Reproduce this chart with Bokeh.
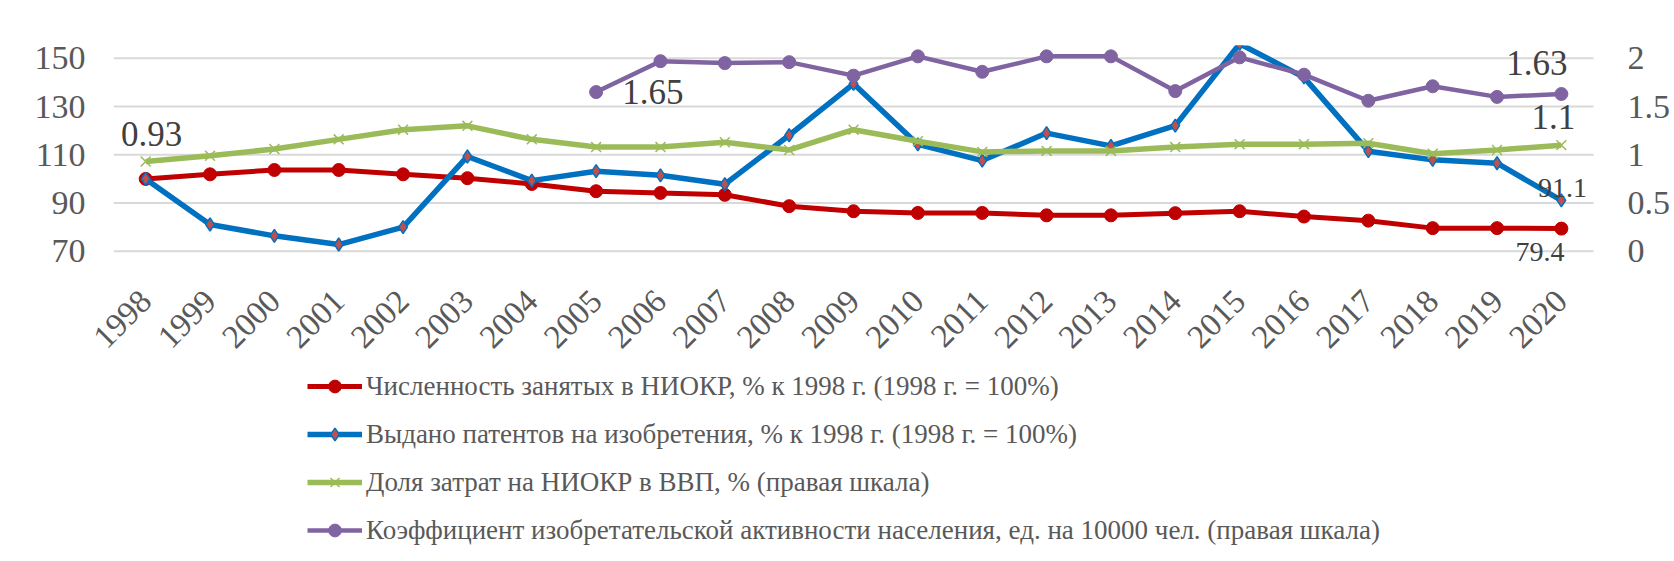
import math
from bokeh.plotting import figure
from bokeh.layouts import column
from bokeh.models import (Range1d, FixedTicker, Legend, LegendItem, Label, LabelSet,
                          ColumnDataSource)
from bokeh.embed import file_html
from bokeh.resources import INLINE

# ---------------- data ----------------
years = list(range(1998, 2021))
staff = [100, 101.9, 103.7, 103.7, 101.9, 100.3, 97.9, 94.9, 94.2, 93.4, 88.7, 86.6,
         85.9, 85.9, 84.9, 84.9, 85.8, 86.6, 84.4, 82.7, 79.6, 79.6, 79.4]
patents = [100, 81.1, 76.4, 72.8, 80.0, 109.3, 99.3, 103.2, 101.5, 97.8, 118.1, 139.4,
           114.3, 107.6, 119.0, 113.7, 122.1, 156.0, 142.1, 111.5, 107.9, 106.5, 91.1]
rd_share = [0.93, 0.99, 1.06, 1.16, 1.26, 1.30, 1.16, 1.08, 1.08, 1.13, 1.05, 1.26,
            1.14, 1.03, 1.04, 1.04, 1.08, 1.11, 1.11, 1.12, 1.01, 1.05, 1.1]
invent_years = list(range(2005, 2021))
invent = [1.65, 1.97, 1.95, 1.96, 1.82, 2.02, 1.86, 2.02, 2.02, 1.66, 2.01, 1.83,
          1.56, 1.71, 1.60, 1.63]
left_ticks = [70, 90, 110, 130, 150]
right_ticks = [0, 0.5, 1, 1.5, 2]
series_names = [
    "Численность занятых в НИОКР, % к 1998 г. (1998 г. = 100%)",
    "Выдано патентов на изобретения, % к 1998 г. (1998 г. = 100%)",
    "Доля затрат на НИОКР в ВВП, % (правая шкала)",
    "Коэффициент изобретательской активности населения, ед. на 10000 чел. (правая шкала)",
]

FONT = "Liberation Serif"
TICK_COLOR = "#595959"
LABEL_COLOR = "#404040"
RED, BLUE, GREEN, PURPLE = "#C00000", "#0070C0", "#9BBB59", "#8064A2"
DIAMOND_FILL = "#C0504D"

W = 1674
H_TOP, H_LEG = 360, 201
BL, TOP, BOTTOM = 113, 45, 95
STEP_PX = 64.35                 # width of one category
X0 = years[0] - 0.5             # left edge of the plot area
X1 = years[-1] + 0.5            # right edge of the plot area (gridlines end here)
x_end = X0 + (W - BL) / STEP_PX # frame continues to the canvas edge for the right labels
PX_PER_UNIT = 2.4125
Y_MAX = 155.3
y_left = (Y_MAX - (H_TOP - TOP - BOTTOM) / PX_PER_UNIT, Y_MAX)
y_right = ((y_left[0] - 70) / 40.0, (y_left[1] - 70) / 40.0)

p = figure(width=W, height=H_TOP, output_backend="svg", toolbar_location=None,
           x_range=Range1d(X0, x_end), y_range=Range1d(*y_left),
           min_border_left=BL, min_border_right=0, min_border_top=TOP,
           min_border_bottom=BOTTOM)
p.extra_y_ranges = {"right": Range1d(*y_right)}
p.background_fill_color = "white"
p.border_fill_color = "white"
p.outline_line_color = None
p.xgrid.visible = False
p.ygrid.visible = False

# axes (left value axis + bottom category axis)
p.xaxis.ticker = FixedTicker(ticks=years)
p.xaxis.major_label_orientation = math.pi / 4
p.yaxis.ticker = FixedTicker(ticks=left_ticks)
for ax in [p.xaxis[0], p.yaxis[0]]:
    ax.axis_line_color = None
    ax.major_tick_line_color = None
    ax.minor_tick_line_color = None
    ax.major_tick_out = 0
    ax.major_tick_in = 0
    ax.major_label_text_font = FONT
    ax.major_label_text_font_size = "34px"
    ax.major_label_text_color = TICK_COLOR
p.xaxis.major_label_text_font_size = "33px"
p.xaxis.major_label_standoff = 30
p.yaxis[0].major_label_standoff = 28

# horizontal gridlines across the plot area only
n = len(left_ticks)
p.segment(x0=[X0] * n, x1=[X1] * n, y0=left_ticks, y1=left_ticks,
          line_color="#d9d9d9", line_width=2)

# right-hand scale labels
p.add_layout(LabelSet(source=ColumnDataSource(dict(y=right_ticks,
                                                   text=[f"{t:g}" for t in right_ticks])),
                      x=1627 - BL, x_units="screen", y="y", y_range_name="right",
                      text="text", text_align="left", text_baseline="middle",
                      text_font=FONT, text_font_size="34px", text_color=TICK_COLOR))

# series
def draw(fig, xs, ys, color, lw, marker, size, fill, mlw, rng="default"):
    r = fig.line(xs, ys, line_color=color, line_width=lw, y_range_name=rng)
    s = fig.scatter(xs, ys, marker=marker, size=size, fill_color=fill,
                    line_color=color, line_width=mlw, y_range_name=rng)
    return [r, s]

STYLE = [
    (RED, 5, "circle", 13, RED, 1),
    (BLUE, 5.5, "diamond", 13, DIAMOND_FILL, 1.5),
    (GREEN, 5.5, "x", 14, None, 1.5),
    (PURPLE, 4.5, "circle", 13, PURPLE, 1),
]
draw(p, years, staff, *STYLE[0])
draw(p, years, patents, *STYLE[1])
draw(p, years, rd_share, *STYLE[2], rng="right")
draw(p, invent_years, invent, *STYLE[3], rng="right")

# data labels (y_offset in screen px, up is positive)
def add_label(x, y, txt, size, align, xo, yo, rng="default"):
    p.add_layout(Label(x=x, y=y, text=txt, text_font=FONT, text_font_size=size,
                       text_color=LABEL_COLOR, text_align=align, text_baseline="middle",
                       x_offset=xo, y_offset=yo, y_range_name=rng))

add_label(years[0], rd_share[0], f"{rd_share[0]}", "35px", "center", 6, 28, "right")
add_label(invent_years[0], invent[0], f"{invent[0]}", "35px", "left", 26, 0, "right")
add_label(invent_years[-1], invent[-1], f"{invent[-1]}", "35px", "right", 6, 31, "right")
add_label(years[-1], rd_share[-1], f"{rd_share[-1]}", "35px", "center", -8, 28, "right")
add_label(years[-1], patents[-1], f"{patents[-1]}", "28px", "center", 1, 12)
add_label(years[-1], staff[-1], f"{staff[-1]}", "28px", "right", 3, -23)

# legend strip under the chart; its renderers reuse the series data but lie
# outside this strip's visible ranges, so only the legend glyphs show
p2 = figure(width=W, height=H_LEG, output_backend="svg", toolbar_location=None,
            x_range=Range1d(0, 1), y_range=Range1d(0, 1),
            x_axis_location=None, y_axis_location=None,
            min_border_left=BL, min_border_right=0, min_border_top=0, min_border_bottom=0)
p2.outline_line_color = None
p2.background_fill_color = "white"
p2.border_fill_color = "white"
for g in p2.grid:
    g.visible = False

lr1 = draw(p2, years, staff, *STYLE[0])
lr2 = draw(p2, years, patents, *STYLE[1])
lr3 = draw(p2, years, rd_share, *STYLE[2])
lr4 = draw(p2, invent_years, invent, *STYLE[3])

legend = Legend(items=[
    LegendItem(label=series_names[0], renderers=lr1),
    LegendItem(label=series_names[1], renderers=lr2),
    LegendItem(label=series_names[2], renderers=lr3),
    LegendItem(label=series_names[3], renderers=lr4),
], location=(194, 15), orientation="vertical")
legend.glyph_width = 55
legend.glyph_height = 32
legend.label_height = 32
legend.spacing = 16
legend.padding = 0
legend.margin = 0
legend.label_standoff = 4
legend.border_line_color = None
legend.background_fill_alpha = 0
legend.label_text_font = FONT
legend.label_text_font_size = "27px"
legend.label_text_color = TICK_COLOR
legend.label_text_baseline = "middle"
p2.add_layout(legend, "center")

layout = column(p, p2, spacing=0)
open("out.html", "w").write(file_html(layout, INLINE))
